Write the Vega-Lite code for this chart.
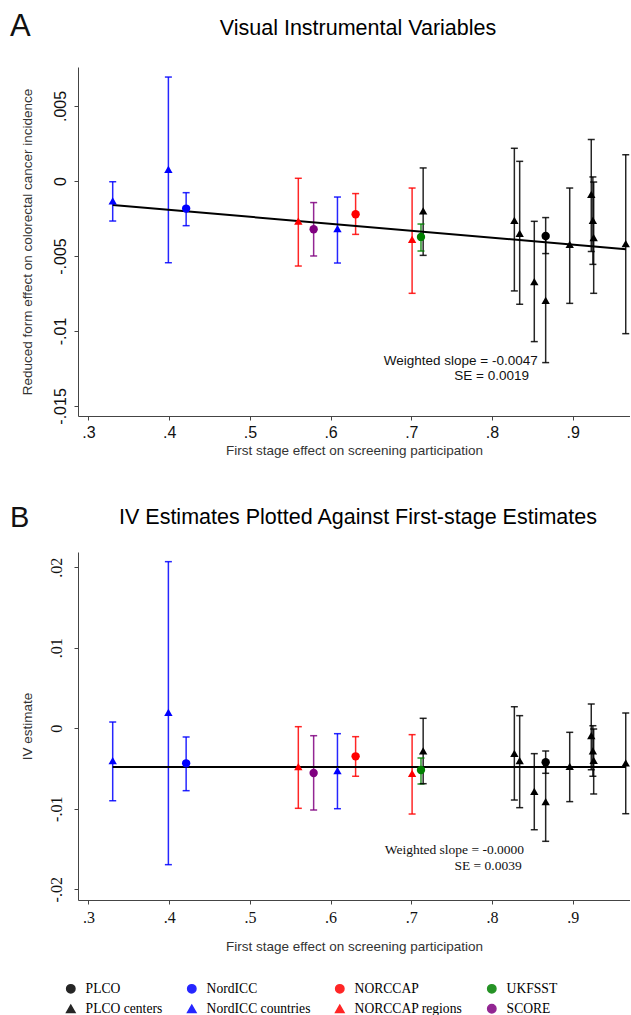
{
  "$schema": "https://vega.github.io/schema/vega-lite/v6.json",
  "background": "white",
  "padding": {"left": 10, "top": 10, "right": 0, "bottom": 0},
  "spacing": 46,
  "datasets": {
    "studies": [
      {"study": "NordICC countries", "x": 0.330, "rf": -0.00133, "rf_lo": -0.00267, "rf_hi": -0.00005, "iv": -0.00402, "iv_lo": -0.00900, "iv_hi": 0.00078},
      {"study": "NordICC countries", "x": 0.399, "rf": 0.00078, "rf_lo": -0.00545, "rf_hi": 0.00693, "iv": 0.00199, "iv_lo": -0.01694, "iv_hi": 0.02070},
      {"study": "NordICC", "x": 0.421, "rf": -0.00184, "rf_lo": -0.00298, "rf_hi": -0.00078, "iv": -0.00435, "iv_lo": -0.00775, "iv_hi": -0.00108},
      {"study": "NORCCAP regions", "x": 0.560, "rf": -0.00267, "rf_lo": -0.00567, "rf_hi": 0.00018, "iv": -0.00477, "iv_lo": -0.00994, "iv_hi": 0.00020},
      {"study": "SCORE", "x": 0.579, "rf": -0.00322, "rf_lo": -0.00500, "rf_hi": -0.00144, "iv": -0.00555, "iv_lo": -0.01015, "iv_hi": -0.00092},
      {"study": "NordICC countries", "x": 0.6085, "rf": -0.00318, "rf_lo": -0.00547, "rf_hi": -0.00107, "iv": -0.00526, "iv_lo": -0.00999, "iv_hi": -0.00067},
      {"study": "NORCCAP", "x": 0.631, "rf": -0.00222, "rf_lo": -0.00356, "rf_hi": -0.00084, "iv": -0.00348, "iv_lo": -0.00596, "iv_hi": -0.00104},
      {"study": "NORCCAP regions", "x": 0.701, "rf": -0.00389, "rf_lo": -0.00749, "rf_hi": -0.00047, "iv": -0.00559, "iv_lo": -0.01065, "iv_hi": -0.00079},
      {"study": "UKFSST", "x": 0.712, "rf": -0.00373, "rf_lo": -0.00467, "rf_hi": -0.00287, "iv": -0.00518, "iv_lo": -0.00692, "iv_hi": -0.00369},
      {"study": "PLCO centers", "x": 0.7147, "rf": -0.00200, "rf_lo": -0.00496, "rf_hi": 0.00087, "iv": -0.00282, "iv_lo": -0.00688, "iv_hi": 0.00124},
      {"study": "PLCO centers", "x": 0.8277, "rf": -0.00262, "rf_lo": -0.00733, "rf_hi": 0.00218, "iv": -0.00311, "iv_lo": -0.00891, "iv_hi": 0.00268},
      {"study": "PLCO centers", "x": 0.8343, "rf": -0.00349, "rf_lo": -0.00822, "rf_hi": 0.00131, "iv": -0.00402, "iv_lo": -0.00986, "iv_hi": 0.00157},
      {"study": "PLCO centers", "x": 0.8524, "rf": -0.00671, "rf_lo": -0.01071, "rf_hi": -0.00269, "iv": -0.00783, "iv_lo": -0.01260, "iv_hi": -0.00315},
      {"study": "PLCO", "x": 0.8665, "rf": -0.00367, "rf_lo": -0.00484, "rf_hi": -0.00244, "iv": -0.00422, "iv_lo": -0.00559, "iv_hi": -0.00282},
      {"study": "PLCO centers", "x": 0.8665, "rf": -0.00796, "rf_lo": -0.01211, "rf_hi": -0.00379, "iv": -0.00911, "iv_lo": -0.01404, "iv_hi": -0.00419},
      {"study": "PLCO centers", "x": 0.8963, "rf": -0.00422, "rf_lo": -0.00816, "rf_hi": -0.00047, "iv": -0.00472, "iv_lo": -0.00911, "iv_hi": -0.00050},
      {"study": "PLCO centers", "x": 0.9230, "rf": -0.00089, "rf_lo": -0.00471, "rf_hi": 0.00276, "iv": -0.00092, "iv_lo": -0.00514, "iv_hi": 0.00302},
      {"study": "PLCO centers", "x": 0.9250, "rf": -0.00262, "rf_lo": -0.00556, "rf_hi": 0.00027, "iv": -0.00282, "iv_lo": -0.00596, "iv_hi": 0.00032},
      {"study": "PLCO centers", "x": 0.9260, "rf": -0.00378, "rf_lo": -0.00749, "rf_hi": -0.00007, "iv": -0.00398, "iv_lo": -0.00816, "iv_hi": -0.00009},
      {"study": "PLCO centers", "x": 0.9657, "rf": -0.00418, "rf_lo": -0.01018, "rf_hi": 0.00175, "iv": -0.00431, "iv_lo": -0.01061, "iv_hi": 0.00190}
    ],
    "fitA": [{"x": 0.330, "rf": -0.00160}, {"x": 0.966, "rf": -0.00455}],
    "fitB": [{"x": 0.330, "iv": -0.00481}, {"x": 0.966, "iv": -0.00481}],
    "notesA": [
      {"label": "Weighted slope = -0.0047", "x": 0.8566, "rf": -0.0120},
      {"label": "SE = 0.0019", "x": 0.8458, "rf": -0.0130}
    ],
    "notesB": [
      {"label": "Weighted slope = -0.0000", "x": 0.8397, "iv": -0.01508},
      {"label": "SE = 0.0039", "x": 0.8368, "iv": -0.01707}
    ]
  },
  "resolve": {"scale": {"x": "independent", "y": "independent"}},
  "vconcat": [
    {
      "title": {"text": "A", "anchor": "start", "frame": "bounds", "font": "Liberation Sans", "fontSize": 31, "fontWeight": "normal", "color": "#111", "dx": -10, "offset": -25},
      "vconcat": [
        {
          "title": {"text": "Visual Instrumental Variables", "anchor": "middle", "font": "Liberation Sans", "fontSize": 21.5, "fontWeight": "normal", "color": "#000", "dx": 4, "offset": 28},
          "width": 552,
          "height": 349,
          "data": {"name": "studies"},
          "encoding": {
            "x": {"field": "x", "type": "quantitative", "scale": {"domain": [0.287, 0.971], "nice": false, "zero": false},
              "axis": {"values": [0.3, 0.4, 0.5, 0.6, 0.7, 0.8, 0.9], "labelExpr": "replace(format(datum.value, '.1f'), '0.', '.')", "title": "First stage effect on screening participation", "titleFont": "Liberation Sans", "titleFontSize": 13.5, "labelFont": "Liberation Sans", "labelFontSize": 16, "labelPadding": 4, "titlePadding": 3}}
          },
          "layer": [
            {
              "mark": {"type": "rule", "strokeWidth": 1.5, "opacity": 0.85},
              "encoding": {
                "y": {"field": "rf_lo", "type": "quantitative", "scale": {"domain": [-0.01567, 0.0076], "nice": false, "zero": false},
                  "axis": {"values": [-0.015, -0.01, -0.005, 0, 0.005], "labelExpr": "(datum.value < 0 ? '-' : '') + replace(format(abs(datum.value), '.3~f'), '0.', '.')", "labelAngle": -90, "title": "Reduced form effect on colorectal cancer incidence", "titleFont": "Liberation Sans", "titleFontSize": 13.5, "labelFont": "Liberation Sans", "labelFontSize": 16, "labelPadding": 6, "titlePadding": 18}},
                "y2": {"field": "rf_hi"},
                "color": {"field": "study", "type": "nominal"}
              }
            },
            {
              "mark": {"type": "tick", "orient": "horizontal", "size": 7, "thickness": 1.5, "opacity": 0.85},
              "encoding": {"y": {"field": "rf_lo", "type": "quantitative"}, "color": {"field": "study", "type": "nominal"}}
            },
            {
              "mark": {"type": "tick", "orient": "horizontal", "size": 7, "thickness": 1.5, "opacity": 0.85},
              "encoding": {"y": {"field": "rf_hi", "type": "quantitative"}, "color": {"field": "study", "type": "nominal"}}
            },
            {
              "data": {"name": "fitA"},
              "mark": {"type": "line", "color": "#000", "strokeWidth": 2},
              "encoding": {"y": {"field": "rf", "type": "quantitative"}}
            },
            {
              "mark": {"type": "point", "filled": true, "opacity": 1},
              "encoding": {
                "y": {"field": "rf", "type": "quantitative"},
                "size": {"field": "study", "type": "nominal", "legend": null,
                  "scale": {"domain": ["PLCO", "NordICC", "NORCCAP", "UKFSST", "PLCO centers", "NordICC countries", "NORCCAP regions", "SCORE"], "range": [70, 70, 70, 70, 100, 100, 100, 70]}},
                "color": {"field": "study", "type": "nominal",
                  "scale": {"domain": ["PLCO", "NordICC", "NORCCAP", "UKFSST", "PLCO centers", "NordICC countries", "NORCCAP regions", "SCORE"], "range": ["#000000", "#0000ff", "#ff0000", "#008000", "#000000", "#0000ff", "#ff0000", "#800080"]},
                  "legend": {"title": null, "orient": "none", "legendX": -14, "legendY": 915, "direction": "horizontal", "columns": 4, "columnPadding": 21, "rowPadding": 5, "labelFont": "Liberation Serif", "labelFontSize": 13.6, "labelColor": "#000", "symbolSize": 80, "symbolOpacity": 1, "labelOffset": 8}},
                "shape": {"field": "study", "type": "nominal",
                  "scale": {"domain": ["PLCO", "NordICC", "NORCCAP", "UKFSST", "PLCO centers", "NordICC countries", "NORCCAP regions", "SCORE"], "range": ["circle", "circle", "circle", "circle", "triangle-up", "triangle-up", "triangle-up", "circle"]},
                  "legend": {"title": null, "orient": "none", "legendX": -14, "legendY": 915, "direction": "horizontal", "columns": 4, "columnPadding": 21, "rowPadding": 5, "labelFont": "Liberation Serif", "labelFontSize": 13.6, "labelColor": "#000", "symbolSize": 80, "symbolOpacity": 1, "labelOffset": 8}}
              }
            },
            {
              "data": {"name": "notesA"},
              "mark": {"type": "text", "align": "right", "baseline": "middle", "font": "Liberation Sans", "fontSize": 13.5, "color": "#111"},
              "encoding": {"y": {"field": "rf", "type": "quantitative"}, "text": {"field": "label"}}
            }
          ]
        }
      ]
    },
    {
      "title": {"text": "B", "anchor": "start", "frame": "bounds", "font": "Liberation Sans", "fontSize": 29, "fontWeight": "normal", "color": "#111", "dx": -10, "offset": -26},
      "vconcat": [
        {
          "title": {"text": "IV Estimates Plotted Against First-stage Estimates", "anchor": "middle", "font": "Liberation Sans", "fontSize": 21.5, "fontWeight": "normal", "color": "#000", "dx": 4, "offset": 24},
          "width": 552,
          "height": 348,
          "data": {"name": "studies"},
          "encoding": {
            "x": {"field": "x", "type": "quantitative", "scale": {"domain": [0.287, 0.971], "nice": false, "zero": false},
              "axis": {"values": [0.3, 0.4, 0.5, 0.6, 0.7, 0.8, 0.9], "labelExpr": "replace(format(datum.value, '.1f'), '0.', '.')", "title": "First stage effect on screening participation", "titleFont": "Liberation Sans", "titleFontSize": 13.5, "labelFont": "Liberation Serif", "labelFontSize": 16, "labelPadding": 5, "titlePadding": 14}}
          },
          "layer": [
            {
              "mark": {"type": "rule", "strokeWidth": 1.5, "opacity": 0.85},
              "encoding": {
                "y": {"field": "iv_lo", "type": "quantitative", "scale": {"domain": [-0.02133, 0.0219], "nice": false, "zero": false},
                  "axis": {"values": [-0.02, -0.01, 0, 0.01, 0.02], "labelExpr": "(datum.value < 0 ? '-' : '') + replace(format(abs(datum.value), '.3~f'), '0.', '.')", "labelAngle": -90, "title": "IV estimate", "titleFont": "Liberation Sans", "titleFontSize": 13.5, "labelFont": "Liberation Serif", "labelFontSize": 16, "labelPadding": 10, "titlePadding": 14}},
                "y2": {"field": "iv_hi"},
                "color": {"field": "study", "type": "nominal"}
              }
            },
            {
              "mark": {"type": "tick", "orient": "horizontal", "size": 7, "thickness": 1.5, "opacity": 0.85},
              "encoding": {"y": {"field": "iv_lo", "type": "quantitative"}, "color": {"field": "study", "type": "nominal"}}
            },
            {
              "mark": {"type": "tick", "orient": "horizontal", "size": 7, "thickness": 1.5, "opacity": 0.85},
              "encoding": {"y": {"field": "iv_hi", "type": "quantitative"}, "color": {"field": "study", "type": "nominal"}}
            },
            {
              "data": {"name": "fitB"},
              "mark": {"type": "line", "color": "#000", "strokeWidth": 2},
              "encoding": {"y": {"field": "iv", "type": "quantitative"}}
            },
            {
              "mark": {"type": "point", "filled": true, "opacity": 1},
              "encoding": {
                "y": {"field": "iv", "type": "quantitative"},
                "size": {"field": "study", "type": "nominal", "legend": null},
                "color": {"field": "study", "type": "nominal"},
                "shape": {"field": "study", "type": "nominal"}
              }
            },
            {
              "data": {"name": "notesB"},
              "mark": {"type": "text", "align": "right", "baseline": "middle", "font": "Liberation Serif", "fontSize": 13.5, "color": "#111"},
              "encoding": {"y": {"field": "iv", "type": "quantitative"}, "text": {"field": "label"}}
            }
          ]
        }
      ]
    }
  ],
  "config": {
    "view": {"stroke": null},
    "axis": {"grid": false, "domainColor": "#444", "tickColor": "#444", "tickSize": 4, "labelColor": "#111", "titleColor": "#333", "titleFontWeight": "normal", "labelFlush": false, "labelOverlap": false}
  }
}
